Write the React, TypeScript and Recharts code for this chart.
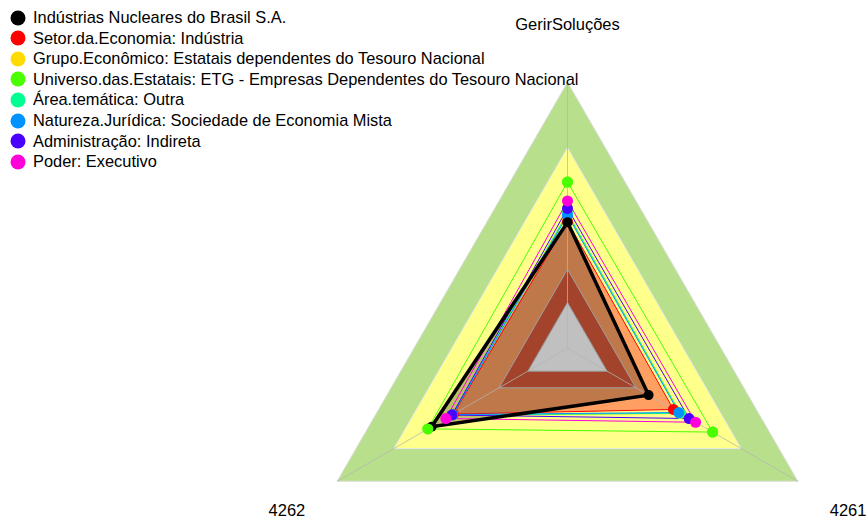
import React from 'react';
import { RadarChart, Radar, PolarAngleAxis, PolarRadiusAxis } from 'recharts';

const axes = ['GerirSoluções', '4261', '4262'];

const seriesNames = [
  'Indústrias Nucleares do Brasil S.A.',
  'Setor.da.Economia: Indústria',
  'Grupo.Econômico: Estatais dependentes do Tesouro Nacional',
  'Universo.das.Estatais: ETG - Empresas Dependentes do Tesouro Nacional',
  'Área.temática: Outra',
  'Natureza.Jurídica: Sociedade de Economia Mista',
  'Administração: Indireta',
  'Poder: Executivo',
];
const seriesColors = ['#000000', '#FF0000', '#FFDB00', '#49FF00', '#00FF92', '#0092FF', '#4900FF', '#FF00DB'];

const inb = [47.4, 35.2, 59.0];
const setor = [47.6, 46.0, 49.5];
const grupo = [51.0, 49.0, 50.5];
const universo = [62.5, 63.0, 60.6];
const area = [50.8, 48.8, 50.2];
const natureza = [50.1, 48.3, 49.8];
const administracao = [52.6, 52.8, 50.2];
const poder = [55.4, 55.6, 52.8];

const seriesValues = [inb, setor, grupo, universo, area, natureza, administracao, poder];
const seriesKeys = ['s0', 's1', 's2', 's3', 's4', 's5', 's6', 's7'];

const bandOuter = [100, 100, 100];
const bandYellow = [75.4, 75.4, 75.4];
const bandSienna = [29.7, 29.7, 29.7];
const bandSilver = [17.2, 17.2, 17.2];

const data = axes.map((axis, i) => {
  const row: any = {
    axis,
    bOuter: bandOuter[i],
    bYellow: bandYellow[i],
    bSienna: bandSienna[i],
    bSilver: bandSilver[i],
  };
  seriesKeys.forEach((k, j) => {
    row[k] = seriesValues[j][i];
  });
  return row;
});

const CX = 567.5;
const CY = 348.3;
const OUTER = 266;
const LABEL_R = 324;
const FONT = '"Liberation Sans", Arial, sans-serif';

const renderTick = (props: any) => {
  const { x, y, payload } = props;
  const dx = x - CX;
  const dy = y - CY;
  const len = Math.hypot(dx, dy) || 1;
  const tx = CX + (dx / len) * LABEL_R;
  const ty = CY + (dy / len) * LABEL_R;
  return (
    <text x={tx} y={ty} textAnchor="middle" dominantBaseline="central" fontSize={16.5} fill="#000" fontFamily={FONT}>
      {payload.value}
    </text>
  );
};

const spokeShape = (props: any) => {
  const pts = props.points || [];
  return (
    <g>
      {pts.map((p: any, i: number) => (
        <line key={i} x1={p.cx} y1={p.cy} x2={p.x} y2={p.y} stroke="#b4b4b4" strokeOpacity={0.75} strokeWidth={1} />
      ))}
    </g>
  );
};

const makeDot = (color: string, r: number) => (p: any) => (
  <circle key={`${p.cx}-${p.cy}-${color}`} cx={p.cx} cy={p.cy} r={r} fill={color} stroke="none" />
);

const lineOrder = [1, 2, 3, 4, 5, 6, 7, 0];

export default function App() {
  return (
    <div style={{ position: 'absolute', left: 0, top: 0, width: 866, height: 520, background: '#fff', fontFamily: FONT }}>
      <RadarChart width={866} height={520} data={data} cx={CX} cy={CY} outerRadius={OUTER} margin={{ top: 0, right: 0, bottom: 0, left: 0 }} startAngle={90} endAngle={-270}>
        <PolarRadiusAxis domain={[0, 100]} tick={false} axisLine={false} />
        <PolarAngleAxis dataKey="axis" tick={renderTick} axisLine={false} tickLine={false} />
        <Radar dataKey="bOuter" fill="#B8E08C" fillOpacity={1} stroke="#dcdcdc" strokeWidth={1} dot={false} isAnimationActive={false} />
        <Radar dataKey="bYellow" fill="#FFFF8C" fillOpacity={1} stroke="#e6e6e6" strokeWidth={1} dot={false} isAnimationActive={false} />
        <Radar dataKey="s1" fill="#FFA062" fillOpacity={1} stroke="none" dot={false} isAnimationActive={false} />
        <Radar dataKey="s0" fill="#000000" fillOpacity={0.25} stroke="none" dot={false} isAnimationActive={false} />
        <Radar dataKey="bSienna" fill="#A3432C" fillOpacity={1} stroke="#a0a0a0" strokeWidth={1} dot={false} isAnimationActive={false} />
        <Radar dataKey="bSilver" fill="#C0C0C0" fillOpacity={1} stroke="#9a9a9a" strokeWidth={1} dot={false} isAnimationActive={false} />
        <Radar dataKey="bOuter" fill="none" stroke="none" dot={false} shape={spokeShape} isAnimationActive={false} />
        {lineOrder.map((j) => (
          <Radar
            key={seriesKeys[j]}
            dataKey={seriesKeys[j]}
            fill="none"
            fillOpacity={0}
            stroke={seriesColors[j]}
            strokeWidth={j === 0 ? 3.5 : 1}
            dot={makeDot(seriesColors[j], j === 0 ? 5 : 5.5)}
            isAnimationActive={false}
          />
        ))}
        <Radar dataKey="s3" fill="none" fillOpacity={0} stroke="none" dot={makeDot(seriesColors[3], 5.5)} isAnimationActive={false} />
      </RadarChart>
      <div style={{ position: 'absolute', left: 0, top: 0 }}>
        {seriesNames.map((name, i) => (
          <div key={name} style={{ position: 'absolute', left: 10, top: 7.5 + i * 20.6, height: 20, display: 'flex', alignItems: 'center', whiteSpace: 'nowrap' }}>
            <svg width={16} height={16} style={{ display: 'block' }}>
              <circle cx={8} cy={8} r={7.5} fill={seriesColors[i]} />
            </svg>
            <span style={{ marginLeft: 7, fontSize: 16.4, color: '#000', fontFamily: FONT }}>{name}</span>
          </div>
        ))}
      </div>
    </div>
  );
}
